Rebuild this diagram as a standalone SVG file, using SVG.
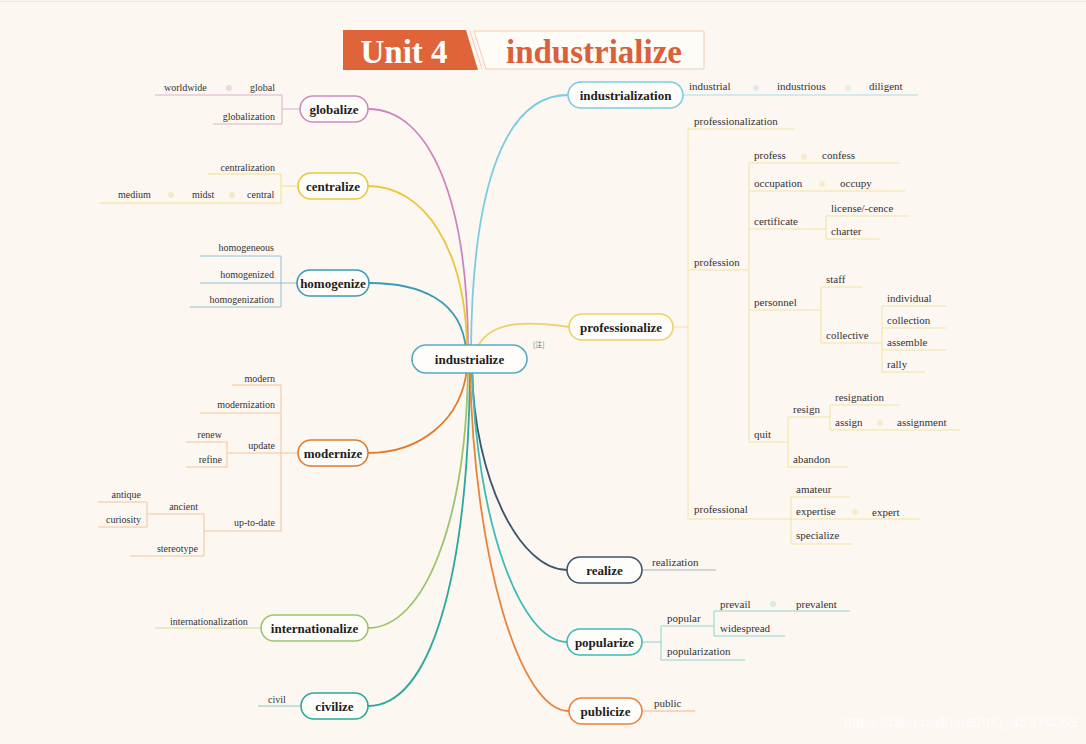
<svg xmlns="http://www.w3.org/2000/svg" width="1086" height="744" viewBox="0 0 1086 744">
<style>
.bg{fill:#fdf7f2}
.node rect{fill:#fffdfa;stroke-width:1.6}
.nt{font-family:"Liberation Serif",serif;font-weight:bold;font-size:13px;fill:#1e1e1e;text-anchor:middle}
.lt{font-family:"Liberation Serif",serif;font-size:10px;fill:#333}
.rt{font-family:"Liberation Serif",serif;font-size:11px;fill:#333}
.r{text-anchor:end}
.sub{fill:none;stroke-width:1}
.main{fill:none;stroke-width:1.8}
.dot{stroke:none;opacity:0.35}
</style>
<rect class="bg" x="0" y="0" width="1086" height="744"/>
<line x1="0" y1="1.5" x2="1086" y2="1.5" stroke="#efe6dc" stroke-width="1"/>

<g id="title">
<polygon points="343,30 466,30 478,70 343,70" fill="#e0643a"/>
<polygon points="474,31 704,31 704,69 486,69" fill="#fffbf7" stroke="#f0cdb5" stroke-width="1"/>
<line x1="470" y1="31" x2="482" y2="69" stroke="#f0cdb5" stroke-width="1"/>
<text x="404" y="63" font-family="Liberation Serif,serif" font-weight="bold" font-size="33" fill="#ffffff" text-anchor="middle">Unit 4</text>
<text x="594" y="63" font-family="Liberation Serif,serif" font-weight="bold" font-size="33" fill="#d9603a" text-anchor="middle">industrialize</text>
</g>

<g id="connectors">
<path class="main" stroke="#cc86bd" d="M368 109 C430 109 468 200 468 350"/>
<path class="main" stroke="#e9c83a" d="M368 186 C425 186 466 250 467 350"/>
<path class="main" stroke="#3a9cb8" d="M369 283 C420 283 462 300 466 350"/>
<path class="main" stroke="#e07b2c" d="M368 453 C420 453 462 420 467 368"/>
<path class="main" stroke="#9cc56a" d="M368 628 C425 628 466 520 468 368"/>
<path class="main" stroke="#2aa899" d="M368 706 C430 706 468 580 470 368"/>
<path class="main" stroke="#7ccbe0" d="M568 95 C500 95 472 200 471 350"/>
<path class="main" stroke="#e8d36a" d="M569 327 C520 320 488 322 476 350"/>
<path class="main" stroke="#3d5670" d="M567 570 C520 570 474 480 472 368"/>
<path class="main" stroke="#3bbdb5" d="M567 642 C520 642 476 520 472 368"/>
<path class="main" stroke="#e8843a" d="M569 711 C520 711 474 560 470 368"/>

<!-- globalize -->
<g stroke="#d8b4cc" class="sub">
<path d="M300 109 H282 M282 95 V124 M155 95 H282 M213 124 H282"/>
</g>
<!-- centralize -->
<g stroke="#efe08a" class="sub">
<path d="M298 186 H281 M281 174 V203 M208 174 H281 M100 203 H281"/>
</g>
<!-- homogenize -->
<g stroke="#8cc3d4" class="sub">
<path d="M297 283 H281 M281 256 V307 M200 256 H281 M200 283 H281 M190 307 H281"/>
</g>
<!-- modernize -->
<g stroke="#f0c498" class="sub">
<path d="M298 453 H281 M281 385 V531 M232 385 H281 M200 413 H281 M228 453 H281 M227 442 V467 M186 442 H227 M186 467 H227 M204 531 H281 M204 514 V556 M147 514 H204 M147 502 V527 M98 502 H147 M98 527 H147 M130 556 H204"/>
</g>
<!-- internationalize -->
<g stroke="#c8dea0" class="sub"><path d="M155 628 H261"/></g>
<!-- civilize -->
<g stroke="#80cfc0" class="sub"><path d="M258 706 H301"/></g>
<!-- industrialization -->
<g stroke="#a8dbe8" class="sub"><path d="M683 95 H918"/></g>
<!-- professionalize -->
<g stroke="#efe4a0" class="sub">
<path d="M673 327 H688 M688 129 V519 M688 129 H795 M688 270 H748 M749 163 V442 M749 163 H900 M749 191 H905 M749 229 H826 M826 216 V239 M826 216 H910 M826 239 H880 M749 310 H821 M821 287 V343 M821 287 H862 M821 343 H882 M882 306 V372 M882 306 H946 M882 328 H946 M882 350 H946 M882 372 H925 M749 442 H788 M788 417 V467 M788 417 H830 M830 405 V430 M830 405 H900 M830 430 H960 M788 467 H848 M688 519 H791 M791 497 V544 M791 497 H850 M791 519 H920 M791 544 H852"/>
</g>
<!-- realize -->
<g stroke="#a9b4c0" class="sub"><path d="M642 570 H716"/></g>
<!-- popularize -->
<g stroke="#8fd4cf" class="sub">
<path d="M642 642 H661 M661 626 V660 M661 626 H714 M714 611 V636 M714 611 H850 M714 636 H785 M661 660 H745"/>
</g>
<!-- publicize -->
<g stroke="#f0b889" class="sub"><path d="M642 711 H695"/></g>
</g>

<g id="n-industrialize" class="node">
<rect x="412" y="345" width="115" height="28" rx="14" stroke="#5aa9c4"/>
<text class="nt" x="469.5" y="364" font-size="14">industrialize</text>
<text x="533" y="347" font-family="Noto Sans CJK SC,sans-serif" font-size="7" fill="#777">[注]</text>
</g>

<g id="n-globalize" class="node">
<rect x="300" y="96" width="68" height="26" rx="13" stroke="#d08ac0"/>
<text class="nt" x="334" y="113.5">globalize</text>
<text class="lt" x="164" y="91">worldwide</text>
<circle class="dot" cx="229" cy="88" r="3" fill="#c8a0bc"/>
<text class="lt" x="250" y="91">global</text>
<text class="lt r" x="275" y="120">globalization</text>
</g>

<g id="n-centralize" class="node">
<rect x="298" y="173" width="70" height="26" rx="13" stroke="#e9c83a"/>
<text class="nt" x="333" y="190.5">centralize</text>
<text class="lt r" x="275" y="171">centralization</text>
<text class="lt" x="118" y="198">medium</text>
<circle class="dot" cx="171" cy="195" r="3" fill="#e8d070"/>
<text class="lt" x="192" y="198">midst</text>
<circle class="dot" cx="232" cy="195" r="3" fill="#e8d070"/>
<text class="lt" x="247" y="198">central</text>
</g>

<g id="n-homogenize" class="node">
<rect x="297" y="270" width="72" height="26" rx="13" stroke="#3a9cb8"/>
<text class="nt" x="333" y="287.5">homogenize</text>
<text class="lt r" x="274" y="251">homogeneous</text>
<text class="lt r" x="274" y="278">homogenized</text>
<text class="lt r" x="274" y="303">homogenization</text>
</g>

<g id="n-modernize" class="node">
<rect x="298" y="440" width="70" height="26" rx="13" stroke="#e07b2c"/>
<text class="nt" x="333" y="457.5">modernize</text>
<text class="lt r" x="275" y="382">modern</text>
<text class="lt r" x="275" y="408">modernization</text>
<text class="lt r" x="275" y="449">update</text>
<text class="lt r" x="222" y="438">renew</text>
<text class="lt r" x="222" y="463">refine</text>
<text class="lt r" x="275" y="526">up-to-date</text>
<text class="lt r" x="198" y="510">ancient</text>
<text class="lt r" x="141" y="498">antique</text>
<text class="lt r" x="141" y="523">curiosity</text>
<text class="lt r" x="198" y="552">stereotype</text>
</g>

<g id="n-internationalize" class="node">
<rect x="261" y="615" width="107" height="26" rx="13" stroke="#9cc56a"/>
<text class="nt" x="314.5" y="632.5">internationalize</text>
<text class="lt" x="170" y="625">internationalization</text>
</g>

<g id="n-civilize" class="node">
<rect x="301" y="693" width="67" height="26" rx="13" stroke="#2aa899"/>
<text class="nt" x="334.5" y="710.5">civilize</text>
<text class="lt" x="268" y="703">civil</text>
</g>

<g id="n-industrialization" class="node">
<rect x="568" y="82" width="115" height="26" rx="13" stroke="#7ccbe0"/>
<text class="nt" x="625.5" y="99.5">industrialization</text>
<text class="rt" x="689" y="90">industrial</text>
<circle class="dot" cx="756" cy="88" r="3" fill="#a8d8e4"/>
<text class="rt" x="777" y="90">industrious</text>
<circle class="dot" cx="848" cy="88" r="3" fill="#a8d8e4"/>
<text class="rt" x="869" y="90">diligent</text>
</g>

<g id="n-professionalize" class="node">
<rect x="569" y="314" width="104" height="26" rx="13" stroke="#e8d36a"/>
<text class="nt" x="621" y="331.5">professionalize</text>
<text class="rt" x="694" y="125">professionalization</text>
<text class="rt" x="694" y="266">profession</text>
<text class="rt" x="754" y="159">profess</text>
<circle class="dot" cx="804" cy="157" r="3" fill="#ecd880"/>
<text class="rt" x="822" y="159">confess</text>
<text class="rt" x="754" y="187">occupation</text>
<circle class="dot" cx="822" cy="184" r="3" fill="#ecd880"/>
<text class="rt" x="840" y="187">occupy</text>
<text class="rt" x="754" y="225">certificate</text>
<text class="rt" x="831" y="212">license/-cence</text>
<text class="rt" x="831" y="235">charter</text>
<text class="rt" x="754" y="306">personnel</text>
<text class="rt" x="826" y="283">staff</text>
<text class="rt" x="826" y="339">collective</text>
<text class="rt" x="887" y="302">individual</text>
<text class="rt" x="887" y="324">collection</text>
<text class="rt" x="887" y="346">assemble</text>
<text class="rt" x="887" y="368">rally</text>
<text class="rt" x="754" y="438">quit</text>
<text class="rt" x="793" y="413">resign</text>
<text class="rt" x="835" y="401">resignation</text>
<text class="rt" x="835" y="426">assign</text>
<circle class="dot" cx="880" cy="423" r="3" fill="#ecd880"/>
<text class="rt" x="897" y="426">assignment</text>
<text class="rt" x="793" y="463">abandon</text>
<text class="rt" x="694" y="513">professional</text>
<text class="rt" x="796" y="493">amateur</text>
<text class="rt" x="796" y="515">expertise</text>
<circle class="dot" cx="855" cy="512" r="3" fill="#ecd880"/>
<text class="rt" x="872" y="516">expert</text>
<text class="rt" x="796" y="539">specialize</text>
</g>

<g id="n-realize" class="node">
<rect x="567" y="557" width="75" height="26" rx="13" stroke="#3d5670"/>
<text class="nt" x="604.5" y="574.5">realize</text>
<text class="rt" x="652" y="566">realization</text>
</g>

<g id="n-popularize" class="node">
<rect x="567" y="629" width="75" height="26" rx="13" stroke="#3bbdb5"/>
<text class="nt" x="604.5" y="646.5">popularize</text>
<text class="rt" x="667" y="622">popular</text>
<text class="rt" x="720" y="608">prevail</text>
<circle class="dot" cx="773" cy="604" r="3" fill="#8fd4cf"/>
<text class="rt" x="796" y="608">prevalent</text>
<text class="rt" x="720" y="632">widespread</text>
<text class="rt" x="667" y="655">popularization</text>
</g>

<g id="n-publicize" class="node">
<rect x="569" y="698" width="73" height="26" rx="13" stroke="#e8843a"/>
<text class="nt" x="605.5" y="715.5">publicize</text>
<text class="rt" x="654" y="707">public</text>
</g>

<text x="1078" y="727" font-family="Liberation Sans,sans-serif" font-size="15" fill="#ffffff" opacity="0.85" text-anchor="end">https://blog.csdn.net/m0_45374069</text>
</svg>
